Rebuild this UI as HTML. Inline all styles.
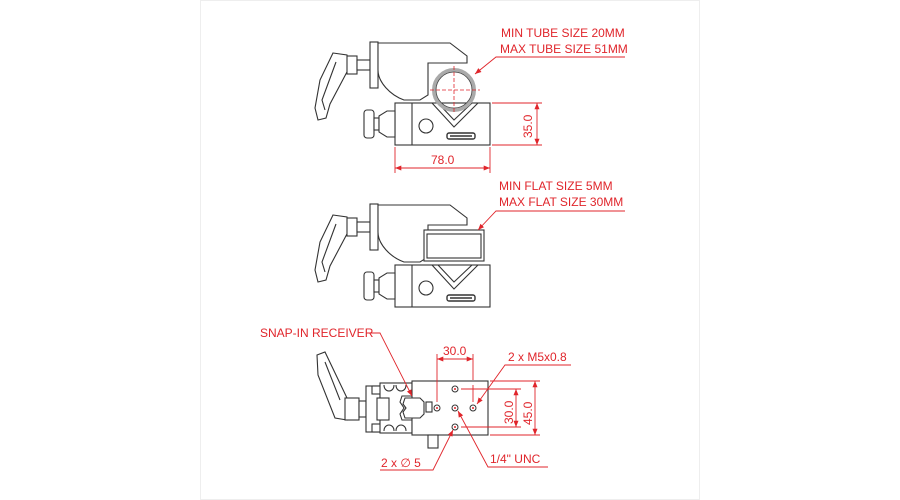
<!DOCTYPE html>
<html><head><style>
html,body{margin:0;padding:0;background:#fff;width:900px;height:500px;overflow:hidden}
svg{display:block}
text{font-family:"Liberation Sans","DejaVu Sans",sans-serif;fill:#e0252b;font-size:12px}
.k{fill:none;stroke:#333;stroke-width:1.1}
.kf{fill:#fff;stroke:#333;stroke-width:1.1}
.r{fill:none;stroke:#e0252b;stroke-width:0.9}
.rd{fill:none;stroke:#e0252b;stroke-width:0.8;stroke-dasharray:4 2}
</style></head><body>
<svg width="900" height="500" viewBox="0 0 900 500">
<rect x="200.5" y="0.5" width="499" height="499" fill="#fff" stroke="#eee"/>
<defs>
<marker id="a" viewBox="0 0 10 10" refX="10" refY="5" markerWidth="7" markerHeight="7" orient="auto-start-reverse"><path d="M0,1 L10,5 L0,9z" fill="#e0252b"/></marker>
<g id="clamp">
 <!-- handle -->
 <path class="kf" d="M333,53 L347,55 L348,70 L330,104 L326,118 L318,120 L315,108 L320,80 Z"/>
 <path class="k" d="M336,62 L322,100 L325,110"/>
 <rect class="kf" x="347" y="56" width="10" height="18"/>
 <rect class="kf" x="357" y="60" width="13" height="10"/>
 <rect class="kf" x="370" y="42" width="8" height="46"/>
 <!-- upper body -->
 <path class="kf" d="M378,43 L450,43 L467,56 L467,63 L428,63 L428,95 L420,100 L404,100 C390,95 378,82 378,70 Z"/>
 <!-- base block -->
 <rect class="kf" x="395" y="103" width="95" height="42"/>
 <line class="k" x1="412" y1="103" x2="412" y2="145"/>
 <path class="k" d="M432,103 L454,127 L478,103"/>
 <path class="k" d="M438,103 L454,120 L472,103"/>
 <circle class="k" cx="426" cy="126" r="7"/>
 <rect x="447" y="133" width="28" height="6" rx="2" fill="#fff" stroke="#333" stroke-width="1.4"/>
 <rect x="450" y="135" width="22" height="2" fill="#666"/>
 <!-- knob -->
 <rect class="kf" x="364" y="110" width="10" height="28" rx="3"/>
 <rect class="kf" x="374" y="118" width="5" height="12"/>
 <path class="kf" d="M379,116 L387,111 L395,111 L395,137 L387,137 L379,132 Z"/>
</g>
</defs>

<!-- Drawing 1 -->
<use href="#clamp"/>
<circle cx="454" cy="90" r="20" fill="none" stroke="#aaa" stroke-width="4"/>
<circle cx="454" cy="90" r="18" fill="none" stroke="#444" stroke-width="0.8"/>
<line class="rd" x1="454" y1="66" x2="454" y2="114"/>
<line class="rd" x1="430" y1="90" x2="480" y2="90"/>
<text x="501" y="37">MIN TUBE SIZE 20MM</text>
<text x="500" y="53">MAX TUBE SIZE 51MM</text>
<polyline class="r" points="625,57 496,57 475,74" marker-end="url(#a)"/>
<line class="r" x1="492" y1="103" x2="542" y2="103"/>
<line class="r" x1="492" y1="145" x2="542" y2="145"/>
<line class="r" x1="537" y1="103" x2="537" y2="145" marker-start="url(#a)" marker-end="url(#a)"/>
<text transform="translate(532,138) rotate(-90)">35.0</text>
<line class="r" x1="395" y1="147" x2="395" y2="173"/>
<line class="r" x1="490" y1="147" x2="490" y2="173"/>
<line class="r" x1="395" y1="168" x2="490" y2="168" marker-start="url(#a)" marker-end="url(#a)"/>
<text x="431" y="164">78.0</text>

<!-- Drawing 2 -->
<use href="#clamp" transform="translate(0,162)"/>
<rect class="kf" x="424" y="230" width="60" height="31"/>
<rect class="k" x="427" y="234" width="54" height="24"/>
<text x="499" y="190">MIN FLAT SIZE 5MM</text>
<text x="499" y="206">MAX FLAT SIZE 30MM</text>
<polyline class="r" points="625,211 496,211 478,230" marker-end="url(#a)"/>

<!-- Drawing 3 -->
<path class="kf" d="M317,355 L325,352 L347,398 L347,420 L335,418 L318,375 Z"/>
<path class="k" d="M325,362 L340,400"/>
<rect class="kf" x="345" y="398" width="14" height="22"/>
<rect class="kf" x="359" y="401" width="7" height="16"/>
<rect class="kf" x="366" y="386" width="14" height="46"/>
<rect class="kf" x="372" y="386" width="10" height="8"/>
<rect class="kf" x="372" y="424" width="10" height="8"/>
<rect class="kf" x="380" y="383" width="32" height="50"/>
<rect class="kf" x="377" y="398" width="12" height="22"/>
<path class="k" d="M384,385 C384,393 394,393 394,385 M396,385 C396,393 406,393 406,385 M384,431 C384,423 394,423 394,431 M396,431 C396,423 406,423 406,431"/>
<path class="kf" d="M402,396 L420,396 L426,401 L426,415 L420,420 L402,420 L400,414 L404,408 L400,402 Z"/>
<rect class="kf" x="412" y="381" width="76" height="54"/>
<path class="kf" d="M405,398 L420,398 L424,402 L424,414 L420,418 L405,418 L403,412 L406,408 L403,404 Z"/>
<rect class="kf" x="426" y="402" width="6" height="10"/>
<rect class="kf" x="428" y="435" width="10" height="13"/>
<g fill="none" stroke="#333" stroke-width="1">
<circle cx="455" cy="389" r="3"/><circle cx="437" cy="408" r="3"/><circle cx="455" cy="408" r="3"/><circle cx="473" cy="408" r="3"/><circle cx="455" cy="427" r="3"/>
</g>
<g fill="#e0252b"><circle cx="455" cy="389" r="1"/><circle cx="437" cy="408" r="1"/><circle cx="455" cy="408" r="1"/><circle cx="473" cy="408" r="1"/><circle cx="455" cy="427" r="1"/></g>
<line class="r" x1="437" y1="354" x2="437" y2="402"/>
<line class="r" x1="473" y1="354" x2="473" y2="380"/>
<line class="r" x1="473" y1="385" x2="473" y2="402"/>
<line class="r" x1="437" y1="359" x2="473" y2="359" marker-start="url(#a)" marker-end="url(#a)"/>
<text x="443" y="355">30.0</text>
<line class="r" x1="490" y1="381" x2="540" y2="381"/>
<line class="r" x1="490" y1="435" x2="540" y2="435"/>
<line class="r" x1="461" y1="389" x2="521" y2="389"/>
<line class="r" x1="461" y1="427" x2="521" y2="427"/>
<line class="r" x1="535" y1="381" x2="535" y2="435" marker-start="url(#a)" marker-end="url(#a)"/>
<line class="r" x1="516" y1="389" x2="516" y2="427" marker-start="url(#a)" marker-end="url(#a)"/>
<text transform="translate(513,424) rotate(-90)">30.0</text>
<text transform="translate(532,425) rotate(-90)">45.0</text>
<text x="260" y="337">SNAP-IN RECEIVER</text>
<polyline class="r" points="367,333 380,333 412,396" marker-end="url(#a)"/>
<text x="508" y="361">2 x M5x0.8</text>
<polyline class="r" points="571,365 505,365 477,404" marker-end="url(#a)"/>
<text x="381" y="467">2 x &#8709; 5</text>
<polyline class="r" points="380,470 433,470 453,430" marker-end="url(#a)"/>
<text x="490" y="463">1/4" UNC</text>
<polyline class="r" points="548,467 488,467 458,411" marker-end="url(#a)"/>
</svg>
</body></html>
